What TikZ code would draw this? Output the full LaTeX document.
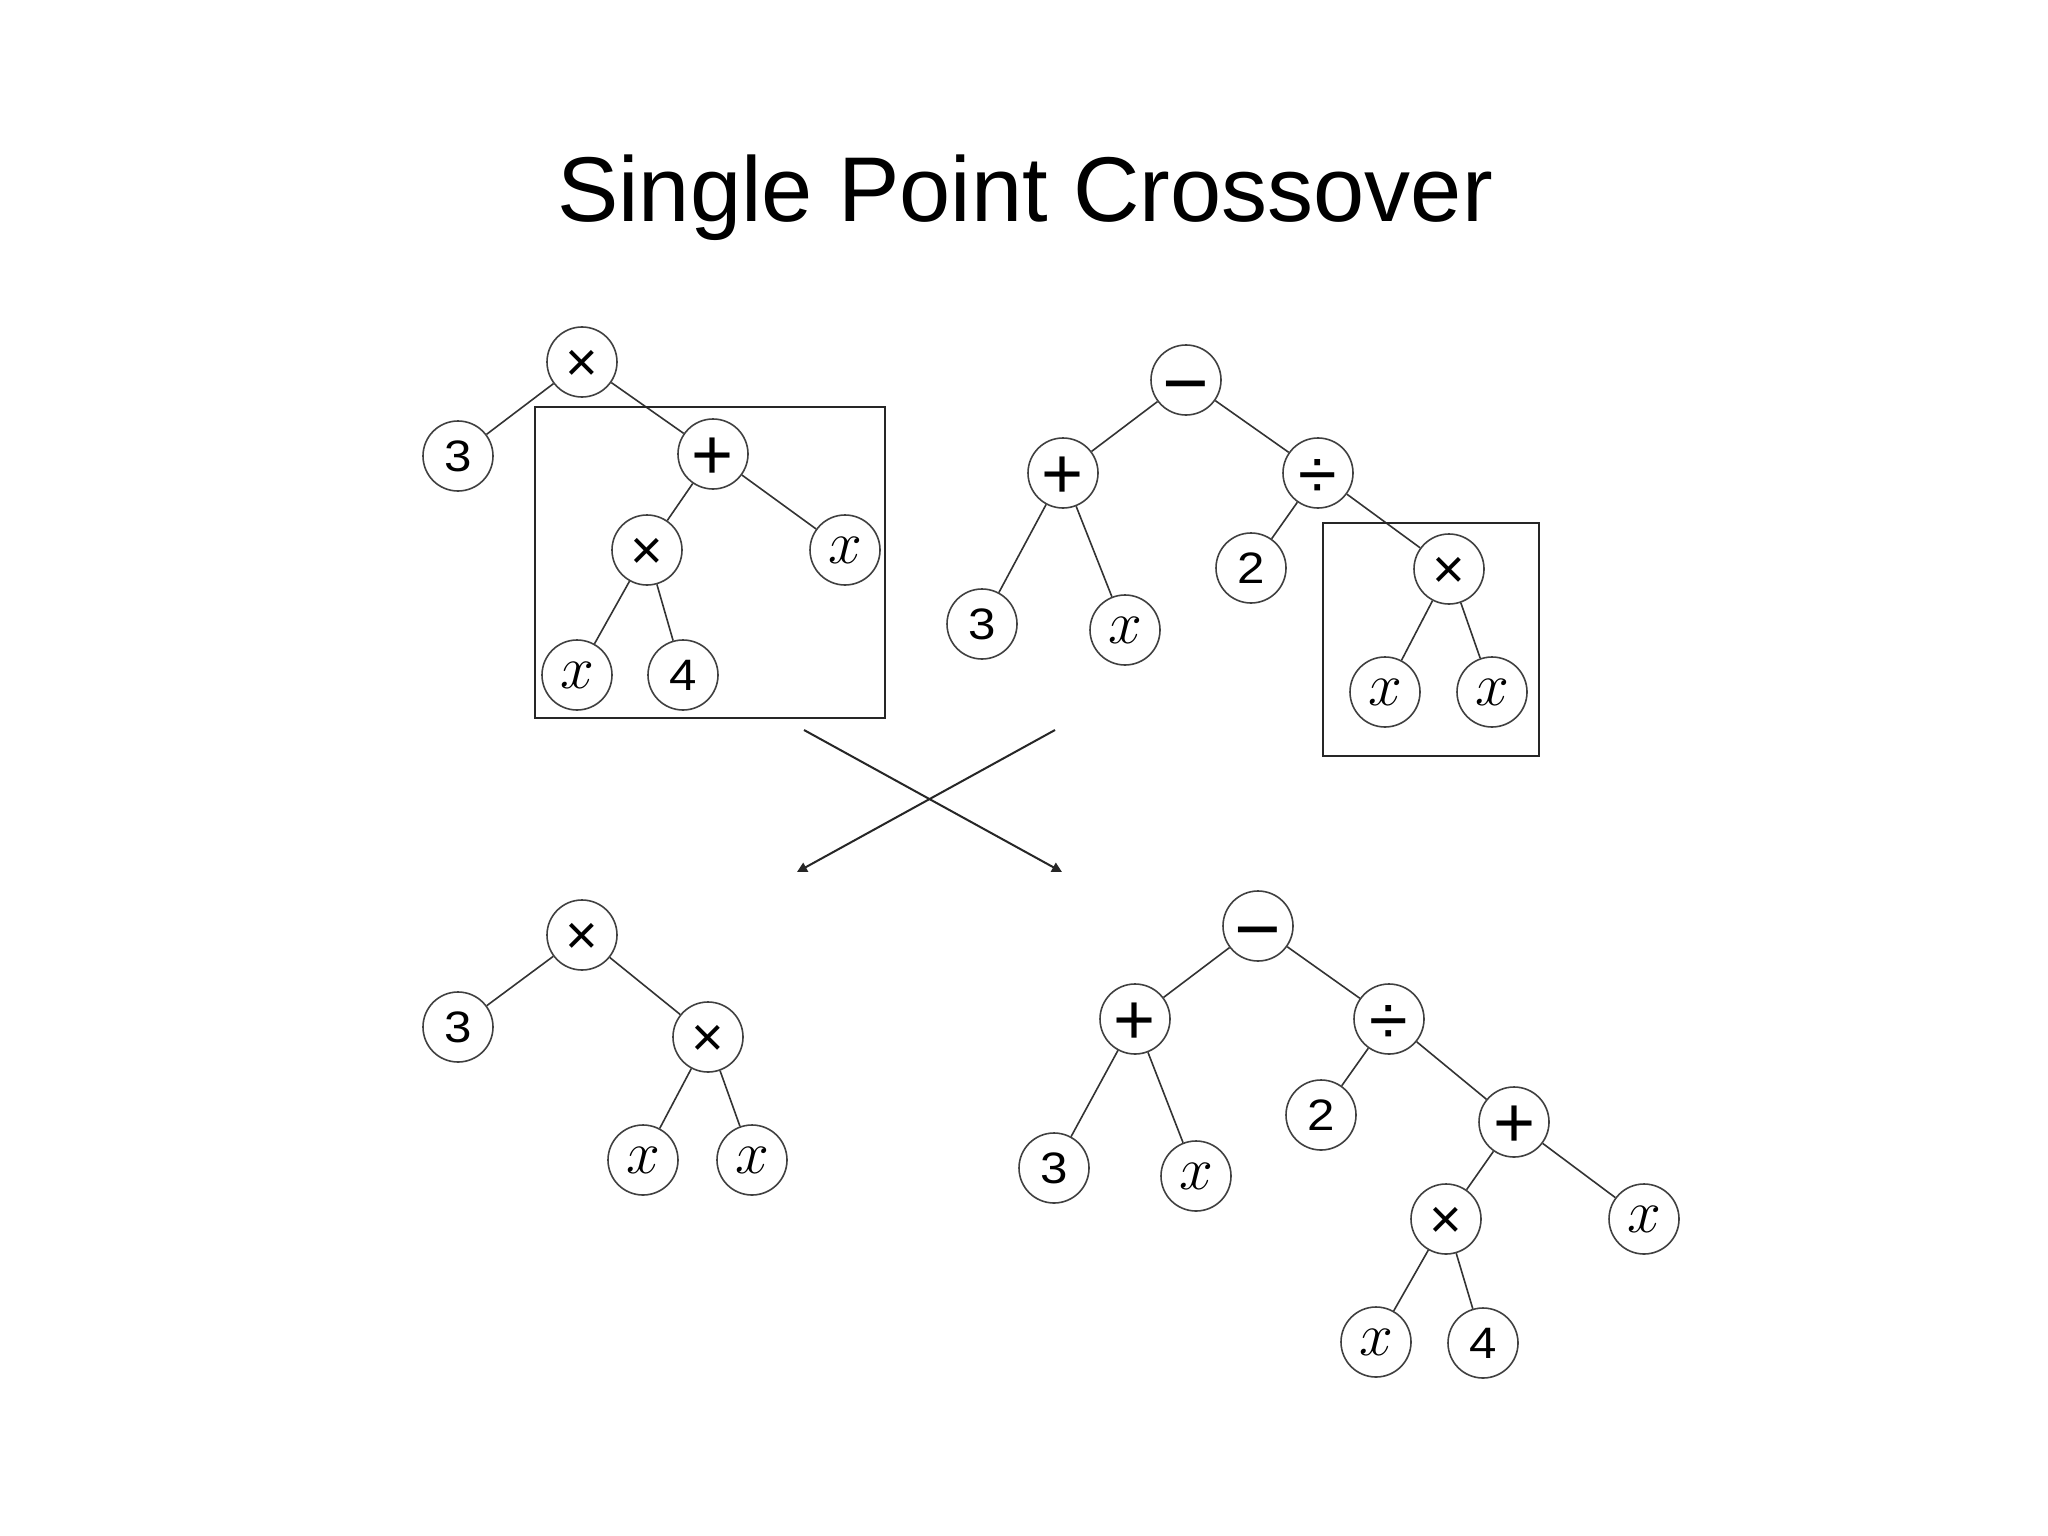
\documentclass[tikz,border=0pt]{standalone}
\usepackage{fontspec}
\setmainfont{Liberation Sans}
\usetikzlibrary{arrows.meta}
\tikzset{
  tn/.style={circle, draw=black!75, line width=0.8pt, minimum size=35pt, inner sep=0pt, fill=white},
  edge/.style={draw=black!80, line width=0.8pt},
  selbox/.style={draw=black!85, line width=1.4pt},
  xarrow/.style={draw=black!85, line width=1pt, -{Triangle[length=5pt,width=5pt]}},
}
\newcommand{\ctrsym}[2][0.35em]{\raisebox{-#1}[0pt][0pt]{\makebox[0pt]{#2}}}
\newcommand{\sDig}[1]{\fontsize{22}{22}\selectfont\scalebox{1.12}[1]{#1}}
\newcommand{\sTim}{\fontsize{28}{28}\selectfont\ctrsym{×}}
\newcommand{\sPlus}{\fontsize{36}{36}\selectfont\ctrsym[0.36em]{+}}
\newcommand{\sMin}{\fontsize{40}{40}\selectfont\ctrsym[0.385em]{−}}
\newcommand{\sDiv}{\fontsize{35}{35}\selectfont\ctrsym[0.36em]{÷}}
\newcommand{\sVar}{\scalebox{1.22}{\fontsize{24.88}{24.88}\selectfont$x$}}
\begin{document}
\begin{tikzpicture}[x=0.5pt,y=-0.5pt]
\useasboundingbox (0,0) rectangle (2048,1535);
\fill[white] (0,0) rectangle (2048,1535);
\node[anchor=base, font=\fontsize{46}{46}\selectfont, inner sep=0pt] (title) at (1025,222) {Single Point Crossover};

% top-left parent
\node[tn] (a1) at (582,362) {\sTim};
\node[tn] (a2) at (458,456) {\sDig{3}};
\node[tn] (a3) at (713,454) {\sPlus};
\node[tn] (a4) at (647,550) {\sTim};
\node[tn] (a5) at (845,550) {\sVar};
\node[tn] (a6) at (577,675) {\sVar};
\node[tn] (a7) at (683,675) {\sDig{4}};
\draw[edge] (a1) -- (a2);
\draw[edge] (a1) -- (a3);
\draw[edge] (a3) -- (a4);
\draw[edge] (a3) -- (a5);
\draw[edge] (a4) -- (a6);
\draw[edge] (a4) -- (a7);
\draw[selbox] (535,407) rectangle (885,718);

% top-right parent
\node[tn] (b1) at (1186,380) {\sMin};
\node[tn] (b2) at (1063,473) {\sPlus};
\node[tn] (b3) at (1318,473) {\sDiv};
\node[tn] (b4) at (982,624) {\sDig{3}};
\node[tn] (b5) at (1125,630) {\sVar};
\node[tn] (b6) at (1251,568) {\sDig{2}};
\node[tn] (b7) at (1449,569) {\sTim};
\node[tn] (b8) at (1385,692) {\sVar};
\node[tn] (b9) at (1492,692) {\sVar};
\draw[edge] (b1) -- (b2);
\draw[edge] (b1) -- (b3);
\draw[edge] (b2) -- (b4);
\draw[edge] (b2) -- (b5);
\draw[edge] (b3) -- (b6);
\draw[edge] (b3) -- (b7);
\draw[edge] (b7) -- (b8);
\draw[edge] (b7) -- (b9);
\draw[selbox] (1323,523) rectangle (1539,756);

% crossing arrows
\coordinate (p1s) at (804,730);
\coordinate (p1e) at (1062,872);
\coordinate (p2s) at (1055,730);
\coordinate (p2e) at (797,872);
\draw[xarrow] (p1s) -- (p1e);
\draw[xarrow] (p2s) -- (p2e);

% bottom-left child
\node[tn] (c1) at (582,935) {\sTim};
\node[tn] (c2) at (458,1027) {\sDig{3}};
\node[tn] (c3) at (708,1037) {\sTim};
\node[tn] (c4) at (643,1160) {\sVar};
\node[tn] (c5) at (752,1160) {\sVar};
\draw[edge] (c1) -- (c2);
\draw[edge] (c1) -- (c3);
\draw[edge] (c3) -- (c4);
\draw[edge] (c3) -- (c5);

% bottom-right child
\node[tn] (d1) at (1258,926) {\sMin};
\node[tn] (d2) at (1135,1019) {\sPlus};
\node[tn] (d3) at (1389,1019) {\sDiv};
\node[tn] (d4) at (1054,1168) {\sDig{3}};
\node[tn] (d5) at (1196,1176) {\sVar};
\node[tn] (d6) at (1321,1115) {\sDig{2}};
\node[tn] (d7) at (1514,1122) {\sPlus};
\node[tn] (d8) at (1446,1219) {\sTim};
\node[tn] (d9) at (1644,1219) {\sVar};
\node[tn] (d10) at (1376,1342) {\sVar};
\node[tn] (d11) at (1483,1343) {\sDig{4}};
\draw[edge] (d1) -- (d2);
\draw[edge] (d1) -- (d3);
\draw[edge] (d2) -- (d4);
\draw[edge] (d2) -- (d5);
\draw[edge] (d3) -- (d6);
\draw[edge] (d3) -- (d7);
\draw[edge] (d7) -- (d8);
\draw[edge] (d7) -- (d9);
\draw[edge] (d8) -- (d10);
\draw[edge] (d8) -- (d11);
\end{tikzpicture}
\end{document}
